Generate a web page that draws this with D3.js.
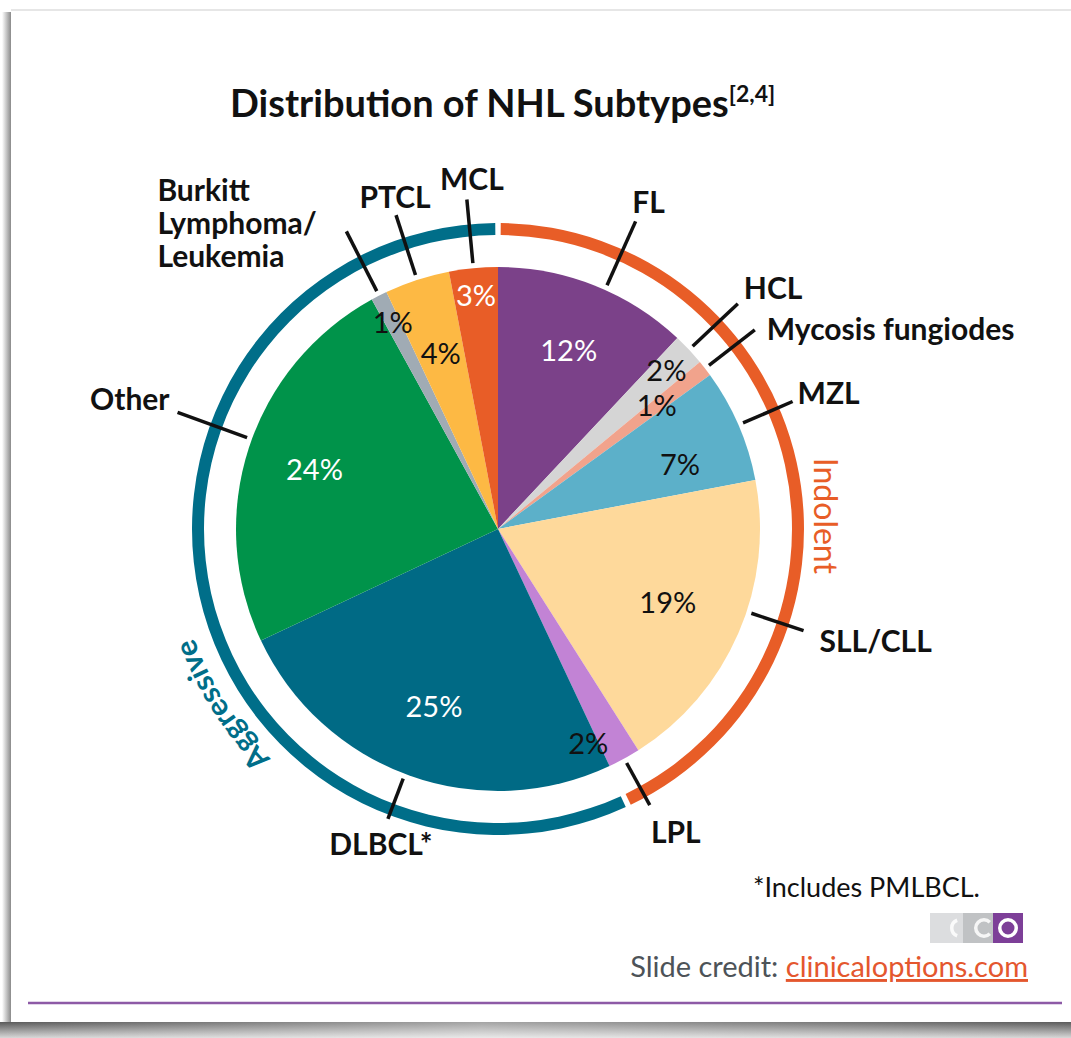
<!DOCTYPE html>
<html>
<head>
<meta charset="utf-8">
<script src="https://cdn.jsdelivr.net/npm/d3@7"></script>
<style>
  body { margin: 0; background: #fff; }
  svg { display: block; font-family: Lato, "Open Sans", sans-serif; }
</style>
</head>
<body>
<svg id="chart" width="1071" height="1038"></svg>
<script>
// data, clockwise from 12 o'clock
const categories = ["FL", "HCL", "Mycosis fungiodes", "MZL", "SLL/CLL", "LPL",
  "DLBCL*", "Other", "Burkitt Lymphoma/Leukemia", "PTCL", "MCL"];
const values = [12, 2, 1, 7, 19, 2, 25, 24, 1, 4, 3];
const groups = ["Indolent", "Indolent", "Indolent", "Indolent", "Indolent", "Indolent",
  "Aggressive", "Aggressive", "Aggressive", "Aggressive", "Aggressive"];
const sliceColors = ["#7b4189", "#d5d5d5", "#f1a38c", "#5cb0c9", "#fed99b", "#c283d5",
  "#006a85", "#00934a", "#a0abb4", "#fdb944", "#e85d27"];
const groupNames = ["Indolent", "Aggressive"];
const groupColors = ["#e85d27", "#006e89"];

// label placement (leader end radius, angle tweak, text offset, pct radius)
const layout = {
  "FL":        { r2: 337, off: 2.5, anchor: "middle", dx: 13, dy: -8, pr: 192, white: true },
  "HCL":       { r2: 329, off: 0, anchor: "start", dx: 6, dy: -5, pr: 231 },
  "Mycosis fungiodes": { r2: 325, off: 0, anchor: "start", dx: 12, dy: 10, pr: 201 },
  "MZL":       { r2: 321, off: 0, anchor: "start", dx: 5, dy: 2, pr: 193, pa: 4 },
  "SLL/CLL":   { r2: 322, off: -5, anchor: "start", dx: 16, dy: 21, pr: 185 },
  "LPL":       { r2: 315, off: 0, anchor: "middle", dx: 26, dy: 38, pr: 233, pa: 6 },
  "DLBCL*":    { r2: 310, off: 1, anchor: "middle", dx: -7, dy: 36, pr: 189, white: true },
  "Other":     { r2: 341, off: 2, anchor: "end", dx: -8, dy: -2, pr: 193, white: true },
  "Burkitt Lymphoma/Leukemia": { r2: 334, off: 0, anchor: "start", dx: -189, dy: -30, pr: 232,
    lines: ["Burkitt", "Lymphoma/", "Leukemia"] },
  "PTCL":      { r2: 330, off: 0, anchor: "middle", dx: -1, dy: -7, pr: 185 },
  "MCL":       { r2: 331, off: 0, anchor: "middle", dx: 5, dy: -9, pr: 234, white: true }
};

const W = 1071, H = 1038;
const cx = 498, cy = 529, R = 262;
const deg = Math.PI / 180;

const svg = d3.select("#chart");
const defs = svg.append("defs");

// slide frame / shadows
const gl = defs.append("linearGradient").attr("id", "leftShade");
gl.append("stop").attr("offset", "0%").attr("stop-color", "#fff");
gl.append("stop").attr("offset", "100%").attr("stop-color", "#8a8a8a");
const gb = defs.append("linearGradient").attr("id", "botShade")
  .attr("x1", 0).attr("y1", 0).attr("x2", 0).attr("y2", 1);
gb.append("stop").attr("offset", "0%").attr("stop-color", "#5a5a5a");
gb.append("stop").attr("offset", "100%").attr("stop-color", "#d8d8d8");
const gm = defs.append("linearGradient").attr("id", "botMid");
gm.append("stop").attr("offset", "0%").attr("stop-color", "#fff").attr("stop-opacity", 0);
gm.append("stop").attr("offset", "45%").attr("stop-color", "#fff").attr("stop-opacity", 0.45);
gm.append("stop").attr("offset", "100%").attr("stop-color", "#fff").attr("stop-opacity", 0);

svg.append("rect").attr("width", W).attr("height", H).attr("fill", "#fff");
svg.append("rect").attr("x", 2).attr("y", 12).attr("width", 9).attr("height", 1012)
  .attr("fill", "url(#leftShade)");
svg.append("rect").attr("x", 0).attr("y", 1022).attr("width", W).attr("height", 16)
  .attr("fill", "url(#botShade)");
svg.append("rect").attr("x", 0).attr("y", 1022).attr("width", W).attr("height", 16)
  .attr("fill", "url(#botMid)");
svg.append("line").attr("x1", 11).attr("x2", W).attr("y1", 10).attr("y2", 10)
  .attr("stroke", "#e6e6e6").attr("stroke-width", 2);

// title
const title = svg.append("text").attr("x", 230).attr("y", 117)
  .attr("font-size", 38).attr("font-weight", 700).attr("fill", "#111");
title.append("tspan").text("Distribution of NHL Subtypes");
title.append("tspan").attr("font-size", 23).attr("dy", -15).text("[2,4]");

const g = svg.append("g").attr("transform", `translate(${cx},${cy})`);

const pie = d3.pie().sort(null).value(d => d)(values);
const arc = d3.arc().innerRadius(0).outerRadius(R);

g.selectAll("path.slice").data(pie).join("path")
  .attr("class", "slice")
  .attr("d", arc)
  .attr("fill", (d, i) => sliceColors[i]);

// outer group rings
const ringArc = d3.arc().innerRadius(294).outerRadius(306);
const ringData = groupNames.map((name, k) => {
  const idx = groups.map((gname, i) => gname === name ? i : -1).filter(i => i >= 0);
  return {
    name, color: groupColors[k],
    startAngle: pie[idx[0]].startAngle + 0.009,
    endAngle: pie[idx[idx.length - 1]].endAngle - 0.009
  };
});
g.selectAll("path.ring").data(ringData).join("path")
  .attr("class", "ring")
  .attr("d", ringArc)
  .attr("fill", d => d.color);

// percent labels
const pol = (a, r) => [Math.sin(a) * r, -Math.cos(a) * r];
g.selectAll("text.pct").data(pie).join("text")
  .attr("class", "pct")
  .attr("transform", (d, i) => {
    const L = layout[categories[i]];
    const a = (d.startAngle + d.endAngle) / 2 + (L.pa || 0) * deg;
    const p = pol(a, L.pr);
    return `translate(${p[0]},${p[1]})`;
  })
  .attr("text-anchor", "middle")
  .attr("dy", "0.36em")
  .attr("font-size", 29)
  .attr("fill", (d, i) => layout[categories[i]].white ? "#fff" : "#111")
  .text(d => d.data + "%");

// leader lines
const leads = pie.map((d, i) => {
  const L = layout[categories[i]];
  const a = (d.startAngle + d.endAngle) / 2 + L.off * deg;
  return { p1: pol(a, 267), p2: pol(a, L.r2), L, name: categories[i] };
});
g.selectAll("line.lead").data(leads).join("line")
  .attr("class", "lead")
  .attr("x1", d => d.p1[0]).attr("y1", d => d.p1[1])
  .attr("x2", d => d.p2[0]).attr("y2", d => d.p2[1])
  .attr("stroke", "#111").attr("stroke-width", 3.5);

// category labels
const labels = g.selectAll("text.cat").data(leads).join("text")
  .attr("class", "cat")
  .attr("x", d => d.p2[0] + d.L.dx)
  .attr("y", d => d.p2[1] + d.L.dy)
  .attr("text-anchor", d => d.L.anchor)
  .attr("font-size", 30).attr("font-weight", 700).attr("fill", "#111");
labels.each(function (d) {
  const t = d3.select(this);
  if (d.L.lines) {
    d.L.lines.forEach((s, j) => t.append("tspan")
      .attr("x", d.p2[0] + d.L.dx).attr("dy", j === 0 ? 0 : 33).text(s));
  } else {
    t.text(d.name);
  }
});

// group names: Aggressive follows the ring, Indolent stands upright beside it
const aggPath = d3.path();
const r0 = 323, a0 = 212 * deg, a1 = 263 * deg;
aggPath.arc(cx, cy, r0, a0 - Math.PI / 2, a1 - Math.PI / 2, false);
defs.append("path").attr("id", "aggPath").attr("d", aggPath.toString());
svg.append("text").attr("font-size", 30).attr("font-weight", 700).attr("fill", groupColors[1])
  .append("textPath").attr("href", "#aggPath")
  .attr("startOffset", "50%").attr("text-anchor", "middle")
  .text(groupNames[1]);

const ip = pol(87.7 * deg, 328);
g.append("text")
  .attr("transform", `translate(${ip[0]},${ip[1]}) rotate(90)`)
  .attr("text-anchor", "middle").attr("dy", "0.36em")
  .attr("font-size", 32).attr("fill", groupColors[0])
  .text(groupNames[0]);

// footnote and credit
svg.append("text").attr("x", 980).attr("y", 897).attr("text-anchor", "end")
  .attr("font-size", 27).attr("fill", "#111").text("*Includes PMLBCL.");

const logo = svg.append("g");
logo.append("rect").attr("x", 930).attr("y", 913).attr("width", 33).attr("height", 30).attr("fill", "#dcdddf");
logo.append("rect").attr("x", 963).attr("y", 913).attr("width", 30).attr("height", 30).attr("fill", "#c0c2c4");
logo.append("rect").attr("x", 993).attr("y", 913).attr("width", 30).attr("height", 30).attr("fill", "#7d3f98");
const ring = d3.arc().innerRadius(6.5).outerRadius(10);
logo.append("path").attr("transform", "translate(960,928)")
  .attr("d", ring({ startAngle: 200 * deg, endAngle: 340 * deg })).attr("fill", "#fff").attr("opacity", 0.85);
logo.append("path").attr("transform", "translate(984,928)")
  .attr("d", ring({ startAngle: 135 * deg, endAngle: 405 * deg })).attr("fill", "#fff").attr("opacity", 0.85);
logo.append("path").attr("transform", "translate(1008,928)")
  .attr("d", ring({ startAngle: 0, endAngle: 2 * Math.PI })).attr("fill", "#fff");

const credit = svg.append("text").attr("x", 1028).attr("y", 977).attr("text-anchor", "end")
  .attr("font-size", 29);
credit.append("tspan").attr("fill", "#4d5358").text("Slide credit: ");
credit.append("tspan").attr("fill", "#e4572e").attr("text-decoration", "underline")
  .text("clinicaloptions.com");

svg.append("line").attr("x1", 28).attr("x2", 1062).attr("y1", 1003).attr("y2", 1003)
  .attr("stroke", "#8d5aa6").attr("stroke-width", 2.5);
</script>
</body>
</html>
